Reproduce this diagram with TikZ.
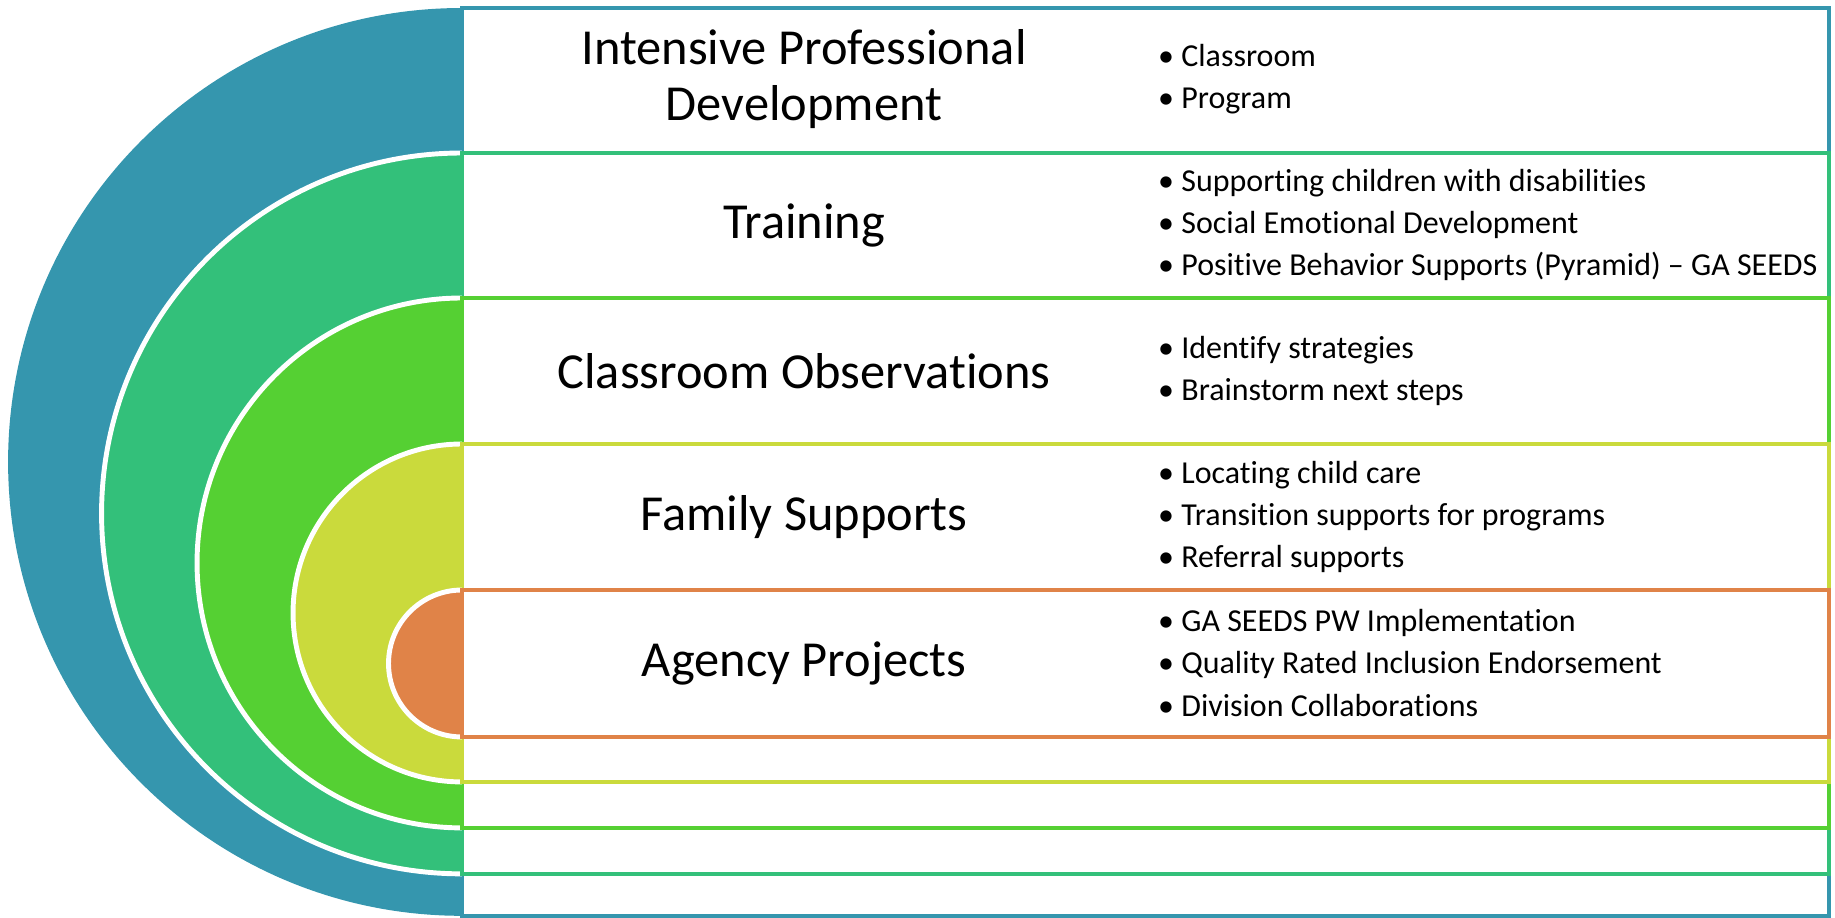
\documentclass[tikz,border=0pt]{standalone}
\usepackage{fontspec}
\setmainfont{Carlito}[Ligatures=NoCommon]
\usetikzlibrary{positioning, calc}
\usepackage{xcolor}
\definecolor{ringBlue}{RGB}{53, 150, 174}
\definecolor{ringTeal}{RGB}{51, 192, 122}
\definecolor{ringGreen}{RGB}{85, 208, 51}
\definecolor{ringLime}{RGB}{202, 218, 60}
\definecolor{ringOrange}{RGB}{224, 131, 72}

\begin{document}
\begin{tikzpicture}[
    x=0.02cm, y=0.02cm,
    band/.style={draw=#1, fill=white, line width=2.5pt},
    disc/.style={fill=#1},
    rim/.style={draw=white, line width=2.8pt},
    title/.style={align=center, font=\fontsize{28.7}{31.4}\selectfont},
    items/.style={align=left, anchor=west, font=\fontsize{18.2}{24}\selectfont}
]
\useasboundingbox (0,0) rectangle (1835,917);

% Rings and bands, outermost first so each inner one sits on top
\fill[disc=ringBlue] (462,909) arc[start angle=90, end angle=270, radius=9.08cm] -- cycle;
\draw[band=ringBlue] (462,909) rectangle (1829,1);

\fill[disc=ringTeal] (462,764) arc[start angle=90, end angle=270, radius=7.21cm] -- cycle;
\draw[rim] (462,764) arc[start angle=90, end angle=270, radius=7.21cm];
\draw[band=ringTeal] (462,764) rectangle (1829,43);

\fill[disc=ringGreen] (462,619) arc[start angle=90, end angle=270, radius=5.30cm] -- cycle;
\draw[rim] (462,619) arc[start angle=90, end angle=270, radius=5.30cm];
\draw[band=ringGreen] (462,619) rectangle (1829,89);

\fill[disc=ringLime] (462,473) arc[start angle=90, end angle=270, radius=3.38cm] -- cycle;
\draw[rim] (462,473) arc[start angle=90, end angle=270, radius=3.38cm];
\draw[band=ringLime] (462,473) rectangle (1829,135);

\fill[disc=ringOrange] (462,327) arc[start angle=90, end angle=270, radius=1.47cm] -- cycle;
\draw[rim] (462,327) arc[start angle=90, end angle=270, radius=1.47cm];
\draw[band=ringOrange] (462,327) rectangle (1829,180);

% Titles
\node[title] (ipd)      at (804, 838) {Intensive Professional\\Development};
\node[title] (training) at (804, 692) {Training};
\node[title] (observe)  at (804, 546) {Classroom Observations};
\node[title] (family)   at (804, 400) {Family Supports};
\node[title] (agency)   at (804, 254) {Agency Projects};

% Bullet lists
\node[items] (ipdList)      at (1152, 838) {\textbullet\ Classroom\\\textbullet\ Program};
\node[items] (trainingList) at (1152, 692) {\textbullet\ Supporting children with disabilities\\\textbullet\ Social Emotional Development\\\textbullet\ Positive Behavior Supports (Pyramid) -- GA SEEDS};
\node[items] (observeList)  at (1152, 546) {\textbullet\ Identify strategies\\\textbullet\ Brainstorm next steps};
\node[items] (familyList)   at (1152, 400) {\textbullet\ Locating child care\\\textbullet\ Transition supports for programs\\\textbullet\ Referral supports};
\node[items] (agencyList)   at (1152, 254) {\textbullet\ GA SEEDS PW Implementation\\\textbullet\ Quality Rated Inclusion Endorsement\\\textbullet\ Division Collaborations};

\end{tikzpicture}
\end{document}
